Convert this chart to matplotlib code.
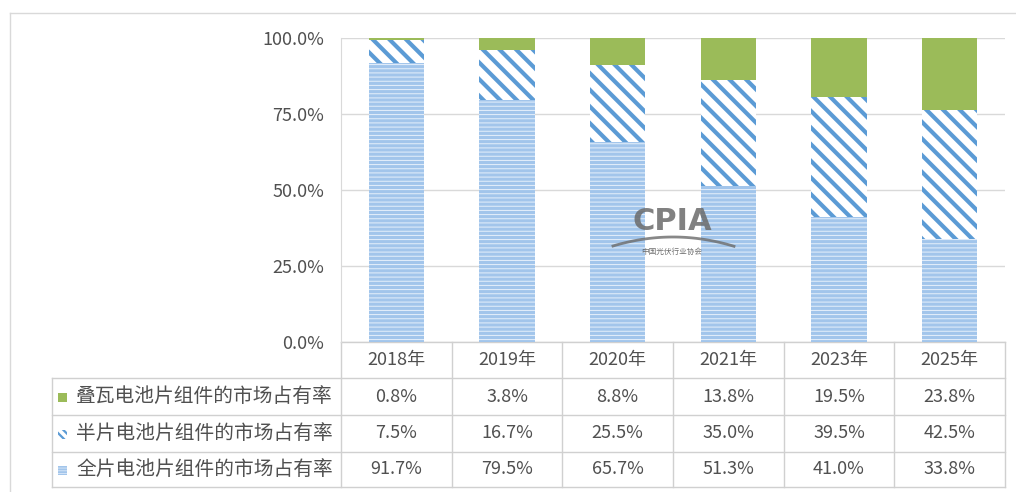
import numpy as np
import matplotlib
matplotlib.use("Agg")
import matplotlib.pyplot as plt
from matplotlib.patches import Rectangle
from matplotlib.ticker import FuncFormatter

plt.rcParams['font.family'] = ['Noto Sans CJK SC', 'DejaVu Sans']

# --- data ---
years = ["2018年", "2019年", "2020年", "2021年", "2023年", "2025年"]
series_names = ["叠瓦电池片组件的市场占有率",
                "半片电池片组件的市场占有率",
                "全片电池片组件的市场占有率"]
shingled = [0.8, 3.8, 8.8, 13.8, 19.5, 23.8]
half_cut = [7.5, 16.7, 25.5, 35.0, 39.5, 42.5]
full_cell = [91.7, 79.5, 65.7, 51.3, 41.0, 33.8]
y_ticks = [0, 25, 50, 75, 100]

# --- styles ---
green = "#9bbb59"
stripe_blue = "#5b9bd5"
light_blue = "#a2c5eb"
text_col = "#505050"
grid_col = "#d9d9d9"

W, H = 1016, 492
fig = plt.figure(figsize=(W / 100, H / 100), dpi=100)

# overlay in pixel coordinates for the frame and the data table
ov = fig.add_axes([0, 0, 1, 1], zorder=0)
ov.set_xlim(0, W)
ov.set_ylim(H, 0)
ov.axis("off")

# bars
ax = fig.add_axes([341 / W, 1 - 342 / H, 664 / W, 304 / H], zorder=1)
ax.patch.set_alpha(0)
x = np.arange(len(years))
bw = 0.5

with plt.rc_context({"hatch.linewidth": 0.7}):
    b1 = ax.bar(x, full_cell, bw, color=light_blue, edgecolor="#e6f0fb",
                hatch="----", linewidth=0)
with plt.rc_context({"hatch.linewidth": 3.0}):
    b2 = ax.bar(x, half_cut, bw, bottom=full_cell, color="white",
                edgecolor=stripe_blue, hatch="\\\\", linewidth=0)
bottom3 = np.array(full_cell) + np.array(half_cut)
b3 = ax.bar(x, shingled, bw, bottom=bottom3, color=green, linewidth=0)
for bars, lw in ((b1, 0.7), (b2, 3.0)):
    for p in bars:
        if hasattr(p, "set_hatch_linewidth"):
            p.set_hatch_linewidth(lw)

ax.set_xlim(-0.5, len(years) - 0.5)
ax.set_ylim(0, 100)
ax.set_yticks(y_ticks)
ax.yaxis.set_major_formatter(FuncFormatter(lambda v, p: f"{v:.1f}%"))
ax.tick_params(axis="y", length=0, pad=12, labelsize=13, labelcolor=text_col)
ax.set_xticks([])
ax.grid(axis="y", color=grid_col, linewidth=1)
ax.set_axisbelow(True)
for s in ("top", "right", "bottom"):
    ax.spines[s].set_visible(False)
ax.spines["left"].set_color(grid_col)

# outer frame (top and left edges)
ov.plot([10, W], [13, 13], color="#d9d9d9", lw=1)
ov.plot([10, 10], [13, H], color="#d9d9d9", lw=1)

# data table
col_left, col_w = 341, 110.67
leg_left = 52
row_tops = [342, 378, 415, 452, 487]
line_col = "#d0d0d0"
right = col_left + col_w * len(years)
for i, yy in enumerate(row_tops):
    xl = col_left if i == 0 else leg_left
    ov.plot([xl, right], [yy, yy], color=line_col, lw=1)
for j in range(len(years) + 1):
    xx = col_left + j * col_w
    ov.plot([xx, xx], [row_tops[0], row_tops[-1]], color=line_col, lw=1)
ov.plot([leg_left, leg_left], [row_tops[1], row_tops[-1]], color=line_col, lw=1)

for j, yr in enumerate(years):
    ov.text(col_left + (j + 0.5) * col_w, (row_tops[0] + row_tops[1]) / 2, yr,
            ha="center", va="center", fontsize=13, color=text_col)

rows = [shingled, half_cut, full_cell]
for r, vals in enumerate(rows):
    yc = (row_tops[r + 1] + row_tops[r + 2]) / 2
    for j, v in enumerate(vals):
        ov.text(col_left + (j + 0.5) * col_w, yc, f"{v:.1f}%",
                ha="center", va="center", fontsize=13, color=text_col)
    ov.text(76, yc, series_names[r], ha="left", va="center",
            fontsize=14.2, color=text_col)

# legend keys
key_styles = [dict(facecolor=green, edgecolor=green, hatch=None, hlw=1),
              dict(facecolor="white", edgecolor=stripe_blue, hatch="\\\\\\\\", hlw=1.6),
              dict(facecolor=light_blue, edgecolor="#e6f0fb", hatch="------", hlw=0.5)]
for r, st in enumerate(key_styles):
    yc = (row_tops[r + 1] + row_tops[r + 2]) / 2
    with plt.rc_context({"hatch.linewidth": st["hlw"]}):
        rect = Rectangle((58, yc - 4), 9, 9, facecolor=st["facecolor"],
                         edgecolor=st["edgecolor"], hatch=st["hatch"], lw=0)
    if hasattr(rect, "set_hatch_linewidth"):
        rect.set_hatch_linewidth(st["hlw"])
    ov.add_patch(rect)

# CPIA watermark
wm = fig.add_axes([0, 0, 1, 1], zorder=2)
wm.set_xlim(0, W)
wm.set_ylim(H, 0)
wm.axis("off")
wm.text(672, 222, "CPIA", ha="center", va="center", fontsize=22,
        fontweight="bold", color="#6b6b6b", alpha=0.85, family="DejaVu Sans")
arc_x = np.linspace(613, 734, 60)
arc_y = 246 - 9 * (1 - ((arc_x - 673) / 60) ** 2)
wm.plot(arc_x, arc_y, color="#6b6b6b", lw=2, alpha=0.8)
wm.text(672, 252, "中国光伏行业协会", ha="center", va="center", fontsize=5.5,
        color="#555555", alpha=0.85)

fig.savefig("out.png", dpi=100)
